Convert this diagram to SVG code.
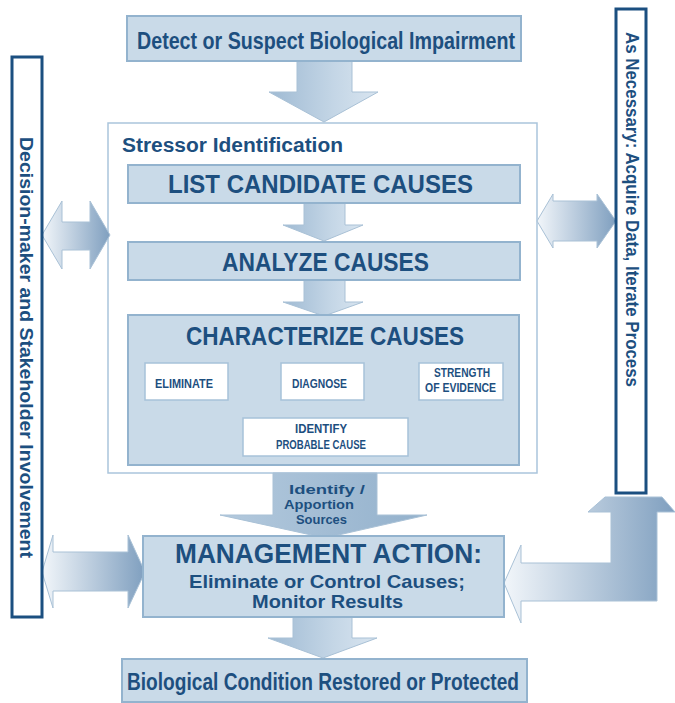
<svg xmlns="http://www.w3.org/2000/svg" width="675" height="703" viewBox="0 0 675 703">
<defs>
<linearGradient id="gv" x1="0" y1="0" x2="1" y2="0">
<stop offset="0" stop-color="#9fbad3"/><stop offset="0.6" stop-color="#c4d6e6"/><stop offset="1" stop-color="#d9e5f0"/>
</linearGradient>
<linearGradient id="gh" x1="0" y1="0" x2="1" y2="0">
<stop offset="0" stop-color="#f2f6fa"/><stop offset="1" stop-color="#7f9fbf"/>
</linearGradient>
<linearGradient id="gid" x1="0" y1="0" x2="1" y2="0">
<stop offset="0" stop-color="#b3c9dd"/><stop offset="1" stop-color="#93b1cc"/>
</linearGradient>
</defs>
<style>
.box{fill:#c9dae8;stroke:#93b3ce;stroke-width:2}
.sub{fill:#ffffff;stroke:#a7c2d9;stroke-width:1.5}
.frame{fill:#ffffff;stroke:#aac5dc;stroke-width:1.5}
.bar{fill:#ffffff;stroke:#1b4f80;stroke-width:3}
.t{font-family:"Liberation Sans",Arial,sans-serif;fill:#1d4f7f;font-weight:bold}
.arr{stroke:#a9c1d6;stroke-width:1}
.ln{fill:none;stroke:#9ab7cf;stroke-width:3}
</style>

<g id="stressor-identification">
<rect class="frame" x="108" y="123" width="429" height="350"/>
<text class="t" x="122" y="152" font-size="20" textLength="221" lengthAdjust="spacingAndGlyphs">Stressor Identification</text>
</g>

<g id="connectors">
<path class="arr" fill="url(#gv)" d="M297,61 H352 V92 H378 L324,122 L269,92 H297 Z"/>
<path class="arr" fill="url(#gv)" d="M304,203 H345 V225 H363 L324,241 L283,225 H304 Z"/>
<path class="arr" fill="url(#gv)" d="M304,280 H345 V302 H363 L324,316 L283,302 H304 Z"/>
<path class="arr" fill="url(#gid)" d="M273,473 H377 V515 H427 L325,538 L220,515 H273 Z"/>
<path class="arr" fill="url(#gv)" d="M293,617 H352 V638 H377 L323,658 L268,638 H293 Z"/>
<path class="arr" fill="url(#gh)" d="M42,235 L62,201 V222 H90 V201 L110,235 L90,269 V250 H62 V269 Z"/>
<path class="arr" fill="url(#gh)" d="M537,221 L553,194 V201 H597 V194 L616,221 L597,248 V241 H553 V248 Z"/>
<path class="arr" fill="url(#gh)" d="M42,572 L53,535 V552 H128 V535 L145,572 L128,608 V591 H53 V608 Z"/>
<path class="arr" fill="url(#gh)" d="M504,583 L521,545 V563 H611 V512 H588 L605,497 H662 L675,512 H657 V601 H521 V623 Z"/>
<path class="ln" d="M186,400 V410 H470 V400 M321,400 V410 M376,410 V418"/>
</g>

<g id="detect">
<rect class="box" x="127" y="16" width="394" height="45"/>
<text class="t" x="137" y="49" font-size="24" textLength="378" lengthAdjust="spacingAndGlyphs">Detect or Suspect Biological Impairment</text>
</g>

<g id="list-candidate-causes">
<rect class="box" x="128" y="165" width="392" height="38"/>
<text class="t" x="168" y="193" font-size="25" textLength="305" lengthAdjust="spacingAndGlyphs">LIST CANDIDATE CAUSES</text>
</g>

<g id="analyze-causes">
<rect class="box" x="128" y="242" width="392" height="38"/>
<text class="t" x="222" y="271" font-size="25" textLength="207" lengthAdjust="spacingAndGlyphs">ANALYZE CAUSES</text>
</g>

<g id="characterize-causes">
<rect class="box" x="128" y="315" width="391" height="150"/>
<text class="t" x="186" y="345" font-size="25" textLength="278" lengthAdjust="spacingAndGlyphs">CHARACTERIZE CAUSES</text>
</g>

<g id="eliminate">
<rect class="sub" x="145" y="363" width="83" height="37"/>
<text class="t" x="155" y="388" font-size="13.5" textLength="58" lengthAdjust="spacingAndGlyphs">ELIMINATE</text>
</g>

<g id="diagnose">
<rect class="sub" x="281" y="363" width="83" height="37"/>
<text class="t" x="292" y="388" font-size="13.5" textLength="55" lengthAdjust="spacingAndGlyphs">DIAGNOSE</text>
</g>

<g id="strength-of-evidence">
<rect class="sub" x="419" y="363" width="84" height="37"/>
<text class="t" x="434" y="377" font-size="13" textLength="56" lengthAdjust="spacingAndGlyphs">STRENGTH</text>
<text class="t" x="425" y="392" font-size="13" textLength="71" lengthAdjust="spacingAndGlyphs">OF EVIDENCE</text>
</g>

<g id="identify-probable-cause">
<rect class="sub" x="243" y="418" width="165" height="38"/>
<text class="t" x="295" y="433" font-size="13" textLength="52" lengthAdjust="spacingAndGlyphs">IDENTIFY</text>
<text class="t" x="276" y="449" font-size="13" textLength="90" lengthAdjust="spacingAndGlyphs">PROBABLE CAUSE</text>
</g>

<g id="identify-apportion-sources">
<text class="t" x="289" y="494" font-size="13" textLength="76" lengthAdjust="spacingAndGlyphs">Identify /</text>
<text class="t" x="284" y="509" font-size="13" textLength="70" lengthAdjust="spacingAndGlyphs">Apportion</text>
<text class="t" x="296" y="524" font-size="13" textLength="51" lengthAdjust="spacingAndGlyphs">Sources</text>
</g>

<g id="management-action">
<rect class="box" x="143" y="536" width="361" height="81"/>
<text class="t" x="175" y="563" font-size="27" textLength="307" lengthAdjust="spacingAndGlyphs">MANAGEMENT ACTION:</text>
<text class="t" x="189" y="588" font-size="19" textLength="276" lengthAdjust="spacingAndGlyphs">Eliminate or Control Causes;</text>
<text class="t" x="252" y="608" font-size="19" textLength="151" lengthAdjust="spacingAndGlyphs">Monitor Results</text>
</g>

<g id="biological-condition">
<rect class="box" x="122" y="659" width="405" height="43"/>
<text class="t" x="127" y="690" font-size="23" textLength="392" lengthAdjust="spacingAndGlyphs">Biological Condition Restored or Protected</text>
</g>

<g id="decision-maker">
<rect class="bar" x="12" y="57" width="30" height="560"/>
<text class="t" transform="translate(20,347.5) rotate(90)" text-anchor="middle" font-size="18" textLength="421" lengthAdjust="spacingAndGlyphs">Decision-maker and Stakeholder Involvement</text>
</g>

<g id="as-necessary">
<rect class="bar" x="616" y="9" width="30" height="484"/>
<text class="t" transform="translate(626,209.5) rotate(90)" text-anchor="middle" font-size="18" textLength="355" lengthAdjust="spacingAndGlyphs">As Necessary: Acquire Data, Iterate Process</text>
</g>
</svg>
